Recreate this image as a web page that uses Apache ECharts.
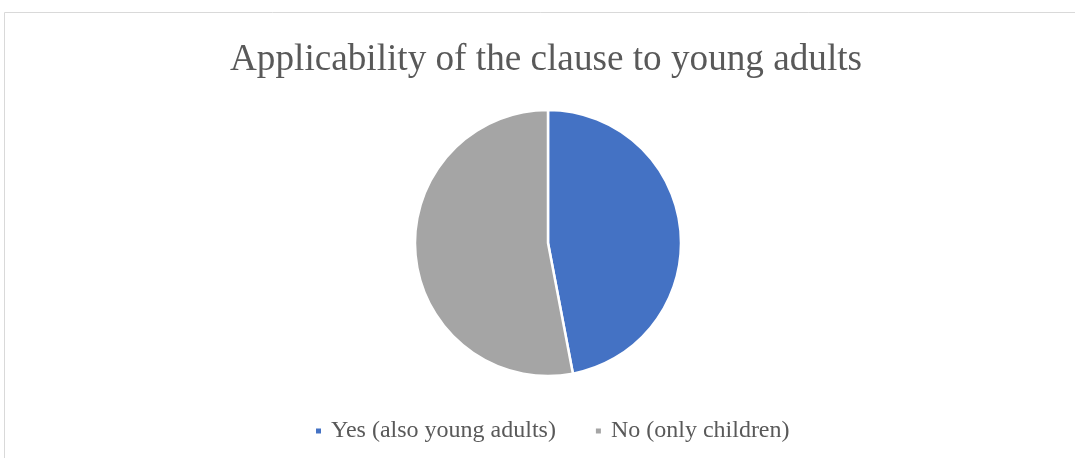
<!DOCTYPE html>
<html><head><meta charset="utf-8">
<script src="https://cdn.jsdelivr.net/npm/echarts@6/dist/echarts.min.js"></script>
<style>html,body{margin:0;padding:0;background:#fff}#c{width:1075px;height:458px}</style>
</head><body><div id="c"></div>
<script>
const titleText = 'Applicability of the clause to young adults';
const categories = ['Yes (also young adults)', 'No (only children)'];
const values = [47, 53];
const colors = ['#4472C4', '#A5A5A5'];

const chart = echarts.init(document.getElementById('c'), null, {renderer: 'canvas'});
chart.setOption({
  animation: false,
  backgroundColor: '#fff',
  title: {
    text: titleText, left: 225, top: 37,
    textStyle: {fontFamily: 'Liberation Serif', fontSize: 37.2, fontWeight: 'normal', color: '#595959'}
  },
  legend: {
    data: categories, bottom: 10, left: 309, icon: 'rect', itemWidth: 7, itemHeight: 7, itemGap: 38,
    textStyle: {fontFamily: 'Liberation Serif', fontSize: 24, color: '#595959', padding: [0, 0, 0, 4]}
  },
  graphic: [{
    type: 'rect', shape: {x: 4.5, y: 12.5, width: 1100, height: 500},
    style: {fill: 'none', stroke: '#D9D9D9', lineWidth: 1}, silent: true
  }],
  series: [{
    type: 'pie', center: [548, 243], radius: 133, startAngle: 90, clockwise: true,
    label: {show: false}, labelLine: {show: false},
    itemStyle: {borderColor: '#fff', borderWidth: 2.5},
    data: categories.map((n, i) => ({name: n, value: values[i], itemStyle: {color: colors[i]}}))
  }]
});
</script></body></html>
